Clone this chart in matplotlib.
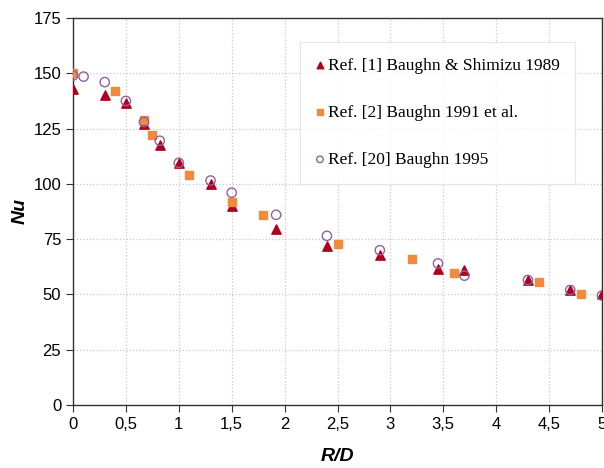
import matplotlib
matplotlib.use("Agg")
import matplotlib.pyplot as plt
from matplotlib.ticker import FuncFormatter

# Ref. [1] Baughn & Shimizu 1989
x1 = [0, 0.3, 0.5, 0.67, 0.82, 1.0, 1.3, 1.5, 1.92, 2.4, 2.9, 3.45, 3.7, 4.3, 4.7, 5.0]
y1 = [143, 140, 136.5, 127, 117.5, 109.5, 100, 90, 79.5, 72, 68, 61.5, 61, 56.5, 52, 50]
# Ref. [2] Baughn 1991 et al.
x2 = [0, 0.4, 0.67, 0.75, 1.1, 1.5, 1.8, 2.5, 3.2, 3.6, 4.4, 4.8]
y2 = [150, 142, 129, 122, 104, 92, 86, 73, 66, 59.5, 55.5, 50]
# Ref. [20] Baughn 1995
x3 = [0, 0.1, 0.3, 0.5, 0.67, 0.82, 1.0, 1.3, 1.5, 1.92, 2.4, 2.9, 3.45, 3.7, 4.3, 4.7, 5.0]
y3 = [149, 148.5, 146, 137.5, 128, 119.5, 109.5, 101.5, 96, 86, 76.5, 70, 64, 58.5, 56.5, 52, 49.5]

xticks = [0, 0.5, 1, 1.5, 2, 2.5, 3, 3.5, 4, 4.5, 5]
yticks = [0, 25, 50, 75, 100, 125, 150, 175]

fig = plt.figure(figsize=(6.04, 4.68), dpi=100)
ax = fig.add_axes([73 / 604, 63 / 468, 529 / 604, 387 / 468])

ax.scatter(x1, y1, marker="^", s=45, color="#b0001e", label="Ref. [1] Baughn & Shimizu 1989", zorder=3)
ax.scatter(x2, y2, marker="s", s=38, color="#f08a3c", label="Ref. [2] Baughn 1991 et al.", zorder=3)
ax.scatter(x3, y3, marker="o", s=45, facecolor="none", edgecolor="#9060a0", linewidth=1.0,
           label="Ref. [20] Baughn 1995", zorder=4)

ax.set_xlim(0, 5)
ax.set_ylim(0, 175)
ax.set_xticks(xticks)
ax.set_yticks(yticks)
ax.xaxis.set_major_formatter(FuncFormatter(lambda v, p: f"{v:g}".replace(".", ",")))
ax.grid(True, color="#c8c8c8", linestyle=":", linewidth=0.9)
ax.set_axisbelow(True)
for s in ax.spines.values():
    s.set_color("#333333")
    s.set_linewidth(1.0)
ax.tick_params(labelsize=12, length=5, color="#333333", direction="out")
for lbl in ax.get_xticklabels() + ax.get_yticklabels():
    lbl.set_family("Liberation Sans")

ax.set_xlabel("R/D", fontsize=14, fontweight="bold", style="italic", family="Liberation Sans", labelpad=12)
ax.set_ylabel("Nu", fontsize=14, fontweight="bold", style="italic", family="Liberation Sans", labelpad=3)

leg = ax.legend(loc="upper left", bbox_to_anchor=(227 / 529, 1 - 24 / 387), frameon=True,
                prop={"family": "Liberation Serif", "size": 12.5}, handletextpad=0.2,
                labelspacing=1.78, borderpad=0.9, handlelength=0.5, fancybox=False,
                markerscale=0.7, borderaxespad=0)
leg.get_frame().set_edgecolor("#e0e0e0")
leg.get_frame().set_linewidth(0.8)

fig.savefig("out.png", dpi=100)
